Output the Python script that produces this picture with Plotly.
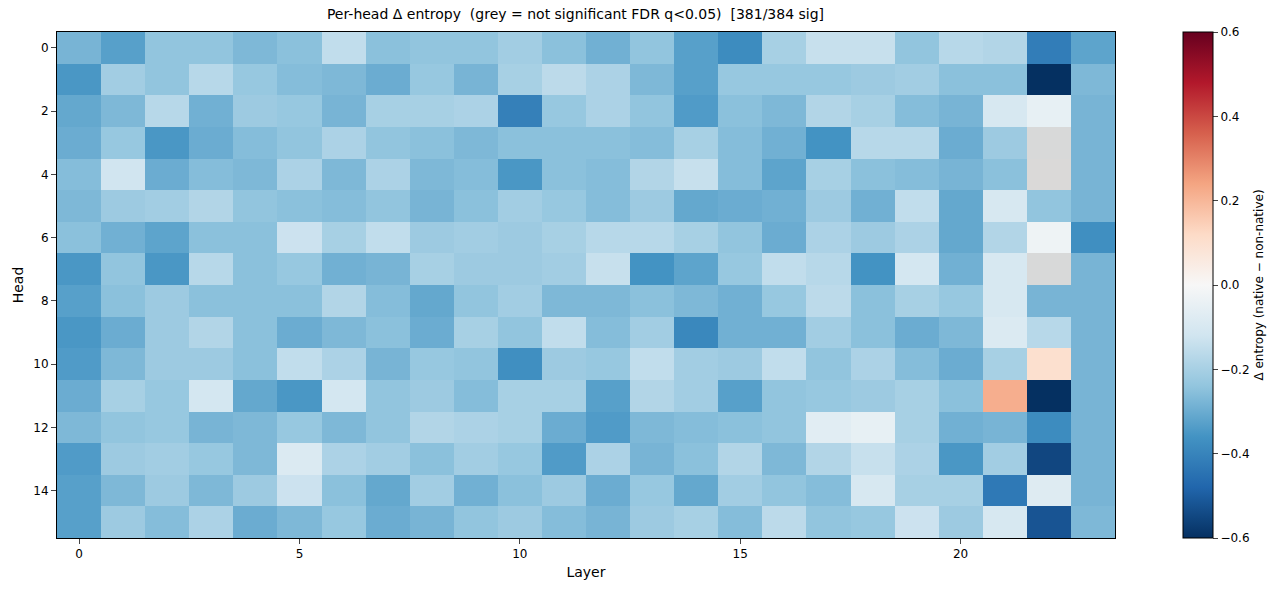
import plotly.graph_objects as go

layers = list(range(24))
heads = list(range(16))

delta = [
    [-0.28,-0.33,-0.24,-0.24,-0.27,-0.25,-0.15,-0.25,-0.24,-0.24,-0.21,-0.25,-0.29,-0.24,-0.33,-0.38,-0.20,-0.14,-0.14,-0.24,-0.17,-0.18,-0.42,-0.32],
    [-0.35,-0.21,-0.24,-0.17,-0.23,-0.26,-0.27,-0.30,-0.23,-0.28,-0.20,-0.16,-0.19,-0.27,-0.33,-0.23,-0.23,-0.23,-0.22,-0.21,-0.25,-0.25,-0.60,-0.27],
    [-0.31,-0.27,-0.17,-0.29,-0.22,-0.23,-0.28,-0.20,-0.20,-0.19,-0.41,-0.23,-0.19,-0.24,-0.34,-0.25,-0.27,-0.18,-0.20,-0.26,-0.28,-0.10,-0.05,-0.28],
    [-0.30,-0.23,-0.35,-0.30,-0.26,-0.24,-0.19,-0.24,-0.25,-0.27,-0.25,-0.25,-0.25,-0.26,-0.20,-0.26,-0.29,-0.36,-0.17,-0.17,-0.30,-0.22,-0.02,-0.28],
    [-0.26,-0.12,-0.30,-0.26,-0.27,-0.19,-0.27,-0.19,-0.27,-0.26,-0.35,-0.25,-0.26,-0.18,-0.14,-0.26,-0.32,-0.20,-0.25,-0.26,-0.28,-0.25,0.02,-0.28],
    [-0.27,-0.22,-0.21,-0.18,-0.24,-0.25,-0.26,-0.24,-0.28,-0.25,-0.21,-0.23,-0.26,-0.22,-0.31,-0.30,-0.29,-0.22,-0.29,-0.15,-0.31,-0.10,-0.24,-0.28],
    [-0.25,-0.29,-0.32,-0.25,-0.25,-0.13,-0.20,-0.15,-0.22,-0.21,-0.22,-0.20,-0.17,-0.17,-0.20,-0.24,-0.30,-0.19,-0.22,-0.19,-0.31,-0.18,-0.03,-0.37],
    [-0.35,-0.24,-0.35,-0.17,-0.25,-0.23,-0.29,-0.28,-0.20,-0.22,-0.22,-0.21,-0.14,-0.36,-0.32,-0.23,-0.15,-0.17,-0.36,-0.11,-0.29,-0.10,-0.03,-0.28],
    [-0.33,-0.25,-0.22,-0.25,-0.25,-0.25,-0.18,-0.26,-0.31,-0.24,-0.21,-0.27,-0.27,-0.25,-0.27,-0.29,-0.23,-0.16,-0.25,-0.20,-0.23,-0.10,-0.28,-0.28],
    [-0.35,-0.30,-0.22,-0.18,-0.25,-0.30,-0.27,-0.25,-0.30,-0.20,-0.24,-0.15,-0.26,-0.21,-0.39,-0.29,-0.29,-0.21,-0.25,-0.30,-0.27,-0.09,-0.17,-0.28],
    [-0.34,-0.27,-0.22,-0.22,-0.25,-0.15,-0.19,-0.28,-0.23,-0.24,-0.37,-0.22,-0.23,-0.15,-0.21,-0.22,-0.15,-0.24,-0.19,-0.26,-0.30,-0.20,0.10,-0.28],
    [-0.30,-0.20,-0.23,-0.11,-0.31,-0.35,-0.11,-0.24,-0.22,-0.26,-0.20,-0.20,-0.33,-0.18,-0.21,-0.33,-0.24,-0.23,-0.22,-0.20,-0.25,0.22,-0.60,-0.28],
    [-0.27,-0.24,-0.23,-0.28,-0.27,-0.23,-0.27,-0.24,-0.18,-0.19,-0.20,-0.30,-0.34,-0.27,-0.26,-0.25,-0.24,-0.07,-0.05,-0.20,-0.29,-0.28,-0.38,-0.28],
    [-0.34,-0.22,-0.21,-0.23,-0.27,-0.09,-0.19,-0.21,-0.25,-0.21,-0.23,-0.34,-0.19,-0.28,-0.25,-0.18,-0.27,-0.18,-0.14,-0.19,-0.35,-0.21,-0.55,-0.28],
    [-0.33,-0.27,-0.22,-0.27,-0.22,-0.13,-0.25,-0.31,-0.21,-0.29,-0.25,-0.22,-0.30,-0.23,-0.31,-0.21,-0.24,-0.26,-0.10,-0.20,-0.20,-0.43,-0.08,-0.28],
    [-0.33,-0.22,-0.26,-0.19,-0.30,-0.27,-0.23,-0.30,-0.28,-0.24,-0.22,-0.26,-0.28,-0.22,-0.20,-0.26,-0.16,-0.24,-0.23,-0.13,-0.22,-0.10,-0.52,-0.27],
]
# (head, layer) cells not significant
not_sig = [(3, 22), (4, 22), (7, 22)]

rdbu_r = ["#053061", "#2166ac", "#4393c3", "#92c5de", "#d1e5f0", "#f7f7f7",
          "#fddbc7", "#f4a582", "#d6604d", "#b2182b", "#67001f"]
cscale = [[i / 10, c] for i, c in enumerate(rdbu_r)]

mask = [[None] * 24 for _ in heads]
for h, l in not_sig:
    mask[h][l] = 1

fig = go.Figure()
fig.add_trace(go.Heatmap(
    z=delta, x=layers, y=heads, zmin=-0.6, zmax=0.6, colorscale=cscale,
    colorbar=dict(
        x=0.946, xanchor="left", xpad=0, ypad=0, len=1, y=0.5, thickness=30,
        outlinecolor="black", outlinewidth=1, ticks="outside",
        tickvals=[-0.6, -0.4, -0.2, 0, 0.2, 0.4, 0.6], tickformat=".1f",
        title=dict(text="Δ entropy (native − non-native)", side="right",
                   font=dict(size=12)),
    ),
))
fig.add_trace(go.Heatmap(
    z=mask, x=layers, y=heads, colorscale=[[0, "#d3d3d3"], [1, "#d3d3d3"]],
    showscale=False, opacity=0.8, hoverinfo="skip",
))

fig.update_layout(
    width=1279, height=590, plot_bgcolor="white", paper_bgcolor="white",
    font=dict(family="DejaVu Sans", size=12, color="black"),
    margin=dict(l=49, r=40, t=24, b=60, autoexpand=False),
    title=dict(text="Per-head Δ entropy  (grey = not significant FDR q<0.05)  [381/384 sig]",
               x=0.4437, xanchor="center", y=0.998, yanchor="top",
               pad=dict(t=0, b=0), font=dict(size=14)),
    xaxis=dict(title=dict(text="Layer", standoff=6), tickvals=[0, 5, 10, 15, 20],
               ticks="outside", showline=True, mirror=True, linecolor="black",
               range=[-0.5, 23.5], showgrid=False, zeroline=False,
               domain=[0, 0.889], automargin=False),
    yaxis=dict(title=dict(text="Head", standoff=6), tickvals=list(range(0, 16, 2)),
               ticks="outside", showline=True, mirror=True, linecolor="black",
               range=[15.5, -0.5], showgrid=False, zeroline=False, automargin=False),
)
fig.write_html("out.html")
